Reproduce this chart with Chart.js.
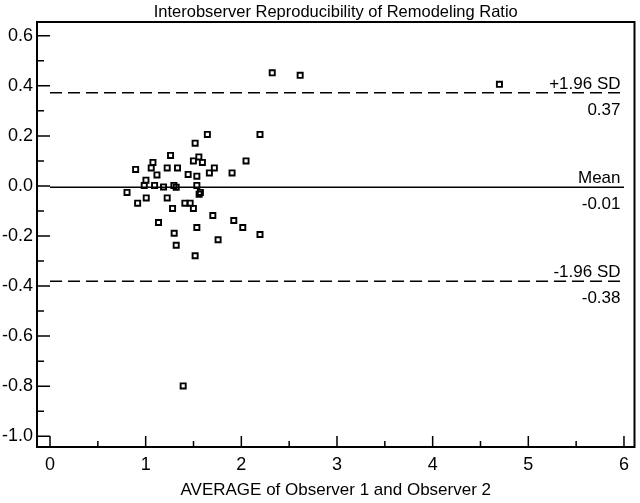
<!DOCTYPE html>
<html><head><meta charset="utf-8">
<script src="https://cdn.jsdelivr.net/npm/chart.js@4/dist/chart.umd.min.js"></script>
<style>html,body{margin:0;padding:0;background:#fff;}</style>
</head><body>
<canvas id="c" width="640" height="503"></canvas>
<script>
const titleText = 'Interobserver Reproducibility of Remodeling Ratio';
const xTitle = 'AVERAGE of Observer 1 and Observer 2';
const pointsX = [1.645,2.195,1.517,1.260,1.556,1.499,1.593,2.049,1.076,0.895,1.058,1.225,1.333,1.718,1.666,1.903,1.118,1.444,1.535,1.003,0.985,1.093,1.187,1.295,1.319,1.535,0.805,1.559,1.572,0.916,1.006,1.225,1.410,1.465,1.281,1.499,1.702,1.134,1.921,1.535,2.015,1.298,2.195,1.757,1.319,1.517,2.323,2.615,4.698,1.392];
const pointsY = [0.206,0.206,0.171,0.122,0.116,0.100,0.094,0.100,0.094,0.066,0.072,0.072,0.072,0.072,0.052,0.052,0.044,0.046,0.039,0.023,0.002,0.002,-0.004,0.002,-0.005,0.002,-0.026,-0.033,-0.026,-0.069,-0.048,-0.048,-0.069,-0.069,-0.090,-0.090,-0.118,-0.146,-0.138,-0.166,-0.166,-0.189,-0.194,-0.215,-0.237,-0.279,0.452,0.442,0.406,-0.799];
const xTicks = [0,1,2,3,4,5,6];
const xMinorTicks = [0.5,1.5,2.5,3.5,4.5,5.5];
const yTicks = [-1.0,-0.8,-0.6,-0.4,-0.2,0.0,0.2,0.4,0.6];
const yMinorTicks = [-0.9,-0.7,-0.5,-0.3,-0.1,0.1,0.3,0.5];
const xRange = [-0.136, 6.11];
const yRange = [-1.043, 0.655];
const refRangeX = [0, 6];
const refValues = [0.372, -0.005, -0.381];
const refNames = ['+1.96 SD', 'Mean', '-1.96 SD'];
const refValueLabels = ['0.37', '-0.01', '-0.38'];

const FONT = '"Liberation Sans", Arial, sans-serif';

const innerTicks = {
  id: 'innerTicks',
  afterDraw(chart) {
    const {ctx, chartArea: a, scales: {x, y}} = chart;
    ctx.save();
    ctx.strokeStyle = '#000';
    ctx.lineWidth = 1.5;
    ctx.beginPath();
    xTicks.forEach(v => { const p = x.getPixelForValue(v); ctx.moveTo(p, a.bottom); ctx.lineTo(p, a.bottom - 11); });
    xMinorTicks.forEach(v => { const p = x.getPixelForValue(v); ctx.moveTo(p, a.bottom); ctx.lineTo(p, a.bottom - 6); });
    yTicks.forEach(v => { const p = y.getPixelForValue(v); ctx.moveTo(a.left, p); ctx.lineTo(a.left + 13, p); });
    yMinorTicks.forEach(v => { const p = y.getPixelForValue(v); ctx.moveTo(a.left, p); ctx.lineTo(a.left + 7, p); });
    ctx.stroke();
    ctx.lineWidth = 2;
    ctx.strokeRect(a.left, a.top, a.right - a.left, a.bottom - a.top);
    ctx.restore();
  }
};

const refLabels = {
  id: 'refLabels',
  afterDatasetsDraw(chart) {
    const {ctx, chartArea: a, scales: {y}} = chart;
    ctx.save();
    ctx.fillStyle = '#000';
    ctx.font = '17px ' + FONT;
    ctx.textAlign = 'right';
    ctx.textBaseline = 'alphabetic';
    const xr = a.right - 14;
    refValues.forEach((v, i) => {
      const p = y.getPixelForValue(v);
      ctx.fillText(refNames[i], xr, p - 4);
      ctx.fillText(refValueLabels[i], xr, p + 22);
    });
    ctx.restore();
  }
};

const datasets = [{
  data: pointsX.map((v, i) => ({x: v, y: pointsY[i]})),
  pointStyle: 'rect',
  pointRadius: 3.6,
  pointHoverRadius: 3.6,
  pointBorderWidth: 1.9,
  borderColor: '#000',
  backgroundColor: 'rgba(0,0,0,0)',
  showLine: false
}];
refValues.forEach((v, i) => {
  datasets.push({
    type: 'line',
    data: [{x: refRangeX[0], y: v}, {x: refRangeX[1], y: v}],
    borderColor: '#000',
    borderWidth: 1.5,
    borderDash: i === 1 ? [] : [12, 6],
    pointRadius: 0,
    fill: false
  });
});

new Chart(document.getElementById('c'), {
  type: 'scatter',
  data: {datasets},
  options: {
    responsive: false,
    animation: false,
    devicePixelRatio: 1,
    layout: {padding: {left: 0, right: 3, top: 0, bottom: 0}},
    plugins: {
      legend: {display: false},
      tooltip: {enabled: false},
      title: {display: true, text: titleText, color: '#000', fullSize: false,
        font: {family: FONT, size: 16.5, weight: 'normal', lineHeight: '20px'},
        padding: {top: 2, bottom: 0}}
    },
    scales: {
      x: {
        type: 'linear', min: xRange[0], max: xRange[1],
        afterBuildTicks: s => { s.ticks = xTicks.map(v => ({value: v})); },
        afterFit: s => { s.height = 56; },
        grid: {display: false, drawTicks: false},
        border: {display: false},
        ticks: {color: '#000', font: {family: FONT, size: 18}, padding: 7, maxRotation: 0, autoSkip: false,
          callback: v => String(v)},
        title: {display: true, text: xTitle, color: '#000', font: {family: FONT, size: 17}, padding: {top: 0, bottom: 2}}
      },
      y: {
        type: 'linear', min: yRange[0], max: yRange[1],
        afterBuildTicks: s => { s.ticks = yTicks.map(v => ({value: v})); },
        afterFit: s => { s.width = 37; },
        grid: {display: false, drawTicks: false},
        border: {display: false},
        ticks: {color: '#000', font: {family: FONT, size: 18}, padding: 4, autoSkip: false,
          callback: v => Number(v).toFixed(1)}
      }
    }
  },
  plugins: [innerTicks, refLabels]
});
</script>
</body></html>
